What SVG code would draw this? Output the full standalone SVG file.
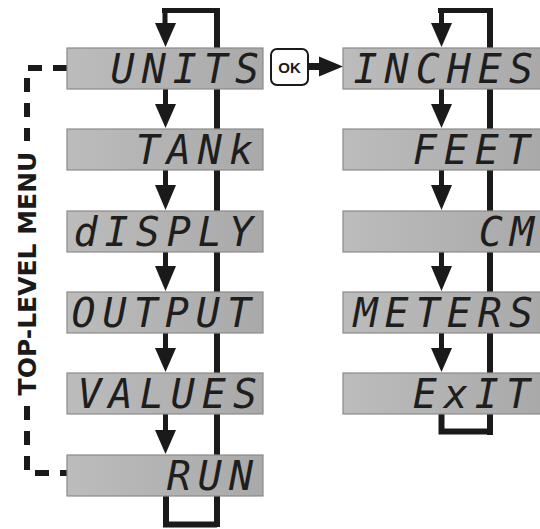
<svg xmlns="http://www.w3.org/2000/svg" width="540" height="529" viewBox="0 0 540 529">
<defs>
<linearGradient id="lcd" x1="0" y1="0" x2="1" y2="0">
<stop offset="0" stop-color="#bcbcbc"/>
<stop offset="1" stop-color="#a9a9a9"/>
</linearGradient>
<style>
.box{fill:url(#lcd);stroke:#8a8a8a;stroke-width:1.2}
.lcd{font-family:"DejaVu Sans Mono",monospace;font-style:italic;font-size:40px;letter-spacing:7px;fill:#1e1e1e;text-anchor:end}
.heavy{fill:none;stroke:#1a1a1a;stroke-width:6}
.stem{fill:none;stroke:#1a1a1a;stroke-width:5}
.head{fill:#1a1a1a}
.dash{fill:none;stroke:#1a1a1a;stroke-width:6;stroke-dasharray:14 11}
.label{font-family:"DejaVu Sans","Liberation Sans",sans-serif;font-weight:bold;font-size:25px;fill:#1a1a1a;text-anchor:middle}
</style>
</defs>
<rect width="540" height="529" fill="#ffffff"/>
<g id="connectors">
<path class="heavy" d="M217,8 V527"/>
<path class="heavy" d="M490,8 V435"/>
<path class="stem" d="M162,10.5 H220 M165,8 V25"/>
<path class="stem" d="M438,10.5 H493 M441.5,8 V25"/>
<polygon class="head" points="155,23 176,23 165.5,47"/>
<polygon class="head" points="431,23 452,23 441.5,47"/>
<path class="stem" d="M165.5,89 V105 M165.5,170 V186 M165.5,252 V267 M165.5,333 V349 M165.5,414 V431"/>
<polygon class="head" points="155,104 176,104 165.5,128"/>
<polygon class="head" points="155,185 176,185 165.5,210"/>
<polygon class="head" points="155,266 176,266 165.5,291"/>
<polygon class="head" points="155,348 176,348 165.5,372"/>
<polygon class="head" points="155,430 176,430 165.5,454"/>
<path class="stem" d="M441.5,89 V105 M441.5,170 V186 M441.5,252 V267 M441.5,333 V349"/>
<polygon class="head" points="431,104 452,104 441.5,128"/>
<polygon class="head" points="431,185 452,185 441.5,210"/>
<polygon class="head" points="431,266 452,266 441.5,291"/>
<polygon class="head" points="431,348 452,348 441.5,372"/>
<path class="heavy" d="M166,496 V524.5 H217"/>
<path class="heavy" d="M441.5,414 V431.5 H490"/>
<path class="dash" d="M67,68 H27 V141"/>
<path class="dash" d="M27,406 V473 H67"/>
<path d="M308,66.5 H322" stroke="#1a1a1a" stroke-width="7" fill="none"/>
<polygon class="head" points="319,56.5 319,76.5 343,66.5"/>
</g>
<g id="label">
<text class="label" transform="translate(35.5,273.5) rotate(-90)">TOP-LEVEL MENU</text>
</g>
<g id="ok">
<rect x="271" y="49" width="37" height="36" rx="6" fill="#ffffff" stroke="#1a1a1a" stroke-width="2"/>
<text x="289.5" y="73" font-family="Liberation Sans,Arial,sans-serif" font-weight="bold" font-size="15" fill="#1a1a1a" text-anchor="middle">OK</text>
</g>
<g id="units"><rect class="box" x="67" y="48" width="196" height="41"/><text class="lcd" x="266" y="83">UNITS</text></g>
<g id="tank"><rect class="box" x="67" y="129" width="196" height="41"/><text class="lcd" x="260" y="164">TANk</text></g>
<g id="display"><rect class="box" x="67" y="211" width="196" height="41"/><text class="lcd" x="260" y="246">dISPLY</text></g>
<g id="output"><rect class="box" x="67" y="292" width="196" height="41"/><text class="lcd" x="258" y="327">OUTPUT</text></g>
<g id="values"><rect class="box" x="67" y="373" width="196" height="41"/><text class="lcd" x="264" y="408">VALUES</text></g>
<g id="run"><rect class="box" x="67" y="455" width="196" height="41"/><text class="lcd" x="260" y="490">RUN</text></g>
<g id="inches"><rect class="box" x="343" y="48" width="199" height="41"/><text class="lcd" x="540" y="83">INCHES</text></g>
<g id="feet"><rect class="box" x="343" y="129" width="199" height="41"/><text class="lcd" x="537" y="164">FEET</text></g>
<g id="cm"><rect class="box" x="343" y="211" width="199" height="41"/><text class="lcd" x="541" y="246">CM</text></g>
<g id="meters"><rect class="box" x="343" y="292" width="199" height="41"/><text class="lcd" x="540" y="327">METERS</text></g>
<g id="exit"><rect class="box" x="343" y="373" width="199" height="41"/><text class="lcd" x="537" y="408">ExIT</text></g>
</svg>
